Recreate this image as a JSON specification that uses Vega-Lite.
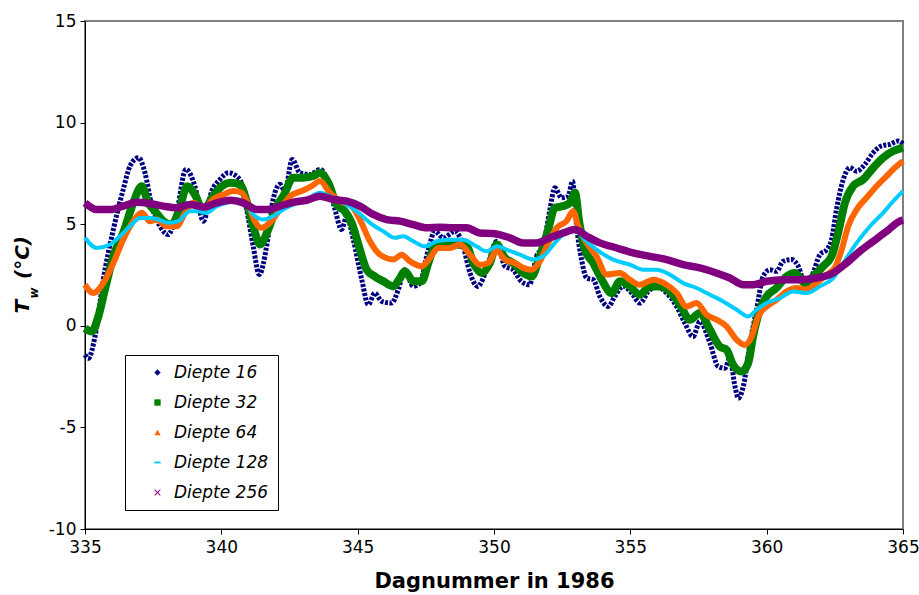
{
  "$schema": "https://vega.github.io/schema/vega-lite/v6.json",
  "width": 818,
  "height": 508,
  "autosize": {"type": "none"},
  "padding": {"left": 85, "top": 21, "right": 16, "bottom": 66},
  "background": "white",
  "config": {
    "view": {"stroke": "#808080", "strokeWidth": 2},
    "font": "DejaVu Sans",
    "axis": {
      "labelFont": "DejaVu Sans", "titleFont": "DejaVu Sans",
      "labelColor": "black", "titleColor": "black",
      "tickColor": "black", "domainColor": "black",
      "grid": false, "labelFontSize": 17, "tickSize": 5, "domainWidth": 1, "tickWidth": 1
    }
  },
  "datasets": {
    "d16": [
      {"d":335,"T":-1.43},{"d":335.12,"T":-1.6},{"d":335.37,"T":-0.5},{"d":335.67,"T":2.27},{"d":336.04,"T":4.74},{"d":336.4,"T":6.7},{"d":336.65,"T":7.86},{"d":336.96,"T":8.27},{"d":337.2,"T":7.53},{"d":337.45,"T":5.89},{"d":337.75,"T":4.9},{"d":338.05,"T":4.49},{"d":338.36,"T":5.56},{"d":338.7,"T":7.7},{"d":339.03,"T":6.87},{"d":339.34,"T":5.15},{"d":339.65,"T":6.63},{"d":339.95,"T":7.2},{"d":340.26,"T":7.53},{"d":340.68,"T":7.2},{"d":340.93,"T":5.72},{"d":341.17,"T":3.91},{"d":341.39,"T":2.52},{"d":341.66,"T":3.91},{"d":341.9,"T":6.22},{"d":342.15,"T":6.96},{"d":342.33,"T":6.63},{"d":342.6,"T":8.19},{"d":342.88,"T":7.53},{"d":343.25,"T":7.45},{"d":343.62,"T":7.7},{"d":343.92,"T":7.04},{"d":344.17,"T":5.72},{"d":344.41,"T":4.74},{"d":344.6,"T":5.39},{"d":344.84,"T":4.24},{"d":345.15,"T":2.27},{"d":345.39,"T":1.04},{"d":345.63,"T":1.61},{"d":345.88,"T":1.2},{"d":346.25,"T":1.12},{"d":346.49,"T":1.78},{"d":346.73,"T":2.76},{"d":347.04,"T":1.94},{"d":347.28,"T":2.1},{"d":347.59,"T":3.75},{"d":347.83,"T":4.65},{"d":348.14,"T":4.33},{"d":348.57,"T":4.65},{"d":348.87,"T":3.91},{"d":349.12,"T":2.6},{"d":349.4,"T":1.94},{"d":349.73,"T":2.76},{"d":350.1,"T":4.16},{"d":350.4,"T":2.93},{"d":350.7,"T":2.76},{"d":351.0,"T":2.19},{"d":351.3,"T":2.02},{"d":351.56,"T":3.42},{"d":351.8,"T":3.91},{"d":352.05,"T":5.72},{"d":352.23,"T":6.79},{"d":352.48,"T":6.3},{"d":352.72,"T":6.38},{"d":352.88,"T":7.12},{"d":353.03,"T":4.9},{"d":353.21,"T":3.26},{"d":353.4,"T":2.35},{"d":353.64,"T":2.27},{"d":353.88,"T":1.45},{"d":354.19,"T":0.95},{"d":354.43,"T":1.45},{"d":354.74,"T":1.94},{"d":355.05,"T":1.61},{"d":355.35,"T":1.12},{"d":355.66,"T":1.69},{"d":355.96,"T":1.94},{"d":356.33,"T":1.61},{"d":356.7,"T":0.95},{"d":357.0,"T":0.13},{"d":357.3,"T":-0.53},{"d":357.55,"T":0.21},{"d":357.92,"T":-0.85},{"d":358.22,"T":-2.0},{"d":358.47,"T":-2.09},{"d":358.65,"T":-1.59},{"d":358.84,"T":-3.0},{"d":358.96,"T":-3.57},{"d":359.14,"T":-3.0},{"d":359.39,"T":-0.85},{"d":359.63,"T":0.79},{"d":359.87,"T":2.43},{"d":360.12,"T":2.76},{"d":360.36,"T":2.68},{"d":360.6,"T":3.17},{"d":360.91,"T":3.26},{"d":361.16,"T":2.93},{"d":361.4,"T":2.1},{"d":361.65,"T":2.43},{"d":361.95,"T":3.5},{"d":362.2,"T":3.75},{"d":362.38,"T":4.24},{"d":362.56,"T":5.72},{"d":362.81,"T":7.2},{"d":363.05,"T":7.78},{"d":363.3,"T":7.61},{"d":363.6,"T":7.94},{"d":363.91,"T":8.52},{"d":364.21,"T":8.85},{"d":364.52,"T":8.93},{"d":364.82,"T":9.09},{"d":365,"T":8.95}
    ],
    "d32": [
      {"d":335,"T":-0.12},{"d":335.25,"T":-0.28},{"d":335.49,"T":0.46},{"d":335.73,"T":1.78},{"d":336.04,"T":3.42},{"d":336.4,"T":4.57},{"d":336.77,"T":6.05},{"d":337.08,"T":6.87},{"d":337.32,"T":6.05},{"d":337.57,"T":5.64},{"d":337.87,"T":5.15},{"d":338.18,"T":4.98},{"d":338.42,"T":5.56},{"d":338.75,"T":6.87},{"d":339.03,"T":6.46},{"d":339.34,"T":5.64},{"d":339.65,"T":6.3},{"d":339.95,"T":6.79},{"d":340.32,"T":7.04},{"d":340.68,"T":6.96},{"d":340.93,"T":6.13},{"d":341.17,"T":4.9},{"d":341.42,"T":4.0},{"d":341.72,"T":4.74},{"d":342.03,"T":5.89},{"d":342.27,"T":6.38},{"d":342.64,"T":7.29},{"d":343.0,"T":7.29},{"d":343.37,"T":7.37},{"d":343.62,"T":7.53},{"d":343.92,"T":7.04},{"d":344.23,"T":5.97},{"d":344.53,"T":5.64},{"d":344.78,"T":5.07},{"d":345.08,"T":3.75},{"d":345.33,"T":2.76},{"d":345.63,"T":2.43},{"d":345.94,"T":2.19},{"d":346.31,"T":1.94},{"d":346.55,"T":2.35},{"d":346.73,"T":2.68},{"d":347.04,"T":2.19},{"d":347.35,"T":2.19},{"d":347.59,"T":3.09},{"d":347.83,"T":3.91},{"d":348.14,"T":4.08},{"d":348.63,"T":4.0},{"d":349.0,"T":3.91},{"d":349.24,"T":3.09},{"d":349.55,"T":2.6},{"d":349.85,"T":3.09},{"d":350.1,"T":4.0},{"d":350.4,"T":3.34},{"d":350.7,"T":3.09},{"d":351.07,"T":2.6},{"d":351.38,"T":2.43},{"d":351.68,"T":3.42},{"d":351.99,"T":4.74},{"d":352.23,"T":5.81},{"d":352.54,"T":5.89},{"d":352.78,"T":6.05},{"d":352.97,"T":6.55},{"d":353.13,"T":5.07},{"d":353.33,"T":3.75},{"d":353.64,"T":3.09},{"d":353.95,"T":2.27},{"d":354.31,"T":1.61},{"d":354.62,"T":2.19},{"d":354.98,"T":1.94},{"d":355.35,"T":1.53},{"d":355.72,"T":1.94},{"d":356.08,"T":1.94},{"d":356.45,"T":1.69},{"d":356.82,"T":1.04},{"d":357.18,"T":0.3},{"d":357.55,"T":0.63},{"d":357.92,"T":-0.2},{"d":358.28,"T":-1.02},{"d":358.53,"T":-1.18},{"d":358.77,"T":-1.92},{"d":359.08,"T":-2.25},{"d":359.32,"T":-1.84},{"d":359.5,"T":-0.53},{"d":359.75,"T":0.79},{"d":360.0,"T":1.45},{"d":360.36,"T":1.86},{"d":360.73,"T":2.43},{"d":361.04,"T":2.6},{"d":361.4,"T":2.1},{"d":361.71,"T":2.43},{"d":362.07,"T":2.93},{"d":362.38,"T":3.42},{"d":362.62,"T":4.57},{"d":362.87,"T":6.05},{"d":363.17,"T":6.87},{"d":363.54,"T":7.2},{"d":363.91,"T":7.78},{"d":364.27,"T":8.27},{"d":364.64,"T":8.6},{"d":365,"T":8.77}
    ],
    "d64": [
      {"d":335,"T":2.02},{"d":335.3,"T":1.61},{"d":335.67,"T":2.1},{"d":336.04,"T":3.09},{"d":336.4,"T":4.24},{"d":336.77,"T":5.15},{"d":337.08,"T":5.56},{"d":337.38,"T":5.15},{"d":337.63,"T":5.23},{"d":337.99,"T":4.9},{"d":338.36,"T":4.9},{"d":338.67,"T":5.56},{"d":338.97,"T":6.05},{"d":339.34,"T":5.72},{"d":339.7,"T":6.22},{"d":340.07,"T":6.46},{"d":340.44,"T":6.63},{"d":340.75,"T":6.55},{"d":340.99,"T":5.97},{"d":341.23,"T":5.15},{"d":341.48,"T":4.82},{"d":341.78,"T":5.07},{"d":342.15,"T":5.72},{"d":342.52,"T":6.38},{"d":342.94,"T":6.63},{"d":343.31,"T":6.87},{"d":343.62,"T":7.12},{"d":343.98,"T":6.55},{"d":344.35,"T":6.13},{"d":344.78,"T":5.89},{"d":345.08,"T":5.23},{"d":345.45,"T":4.16},{"d":345.82,"T":3.5},{"d":346.31,"T":3.26},{"d":346.61,"T":3.5},{"d":346.92,"T":3.17},{"d":347.35,"T":2.93},{"d":347.65,"T":3.34},{"d":347.96,"T":3.83},{"d":348.38,"T":3.83},{"d":348.75,"T":4.0},{"d":349.12,"T":3.5},{"d":349.48,"T":3.0},{"d":349.79,"T":3.09},{"d":350.1,"T":3.7},{"d":350.4,"T":3.26},{"d":350.77,"T":3.09},{"d":351.07,"T":2.85},{"d":351.38,"T":2.76},{"d":351.68,"T":3.17},{"d":351.99,"T":4.08},{"d":352.3,"T":4.82},{"d":352.66,"T":5.15},{"d":352.9,"T":5.64},{"d":353.09,"T":4.9},{"d":353.4,"T":4.08},{"d":353.76,"T":3.42},{"d":354.13,"T":2.52},{"d":354.62,"T":2.6},{"d":354.98,"T":2.27},{"d":355.35,"T":2.02},{"d":355.84,"T":2.27},{"d":356.33,"T":2.02},{"d":356.7,"T":1.61},{"d":357.06,"T":0.95},{"d":357.43,"T":1.12},{"d":357.8,"T":0.54},{"d":358.16,"T":0.3},{"d":358.53,"T":-0.03},{"d":358.9,"T":-0.69},{"d":359.2,"T":-0.94},{"d":359.45,"T":-0.53},{"d":359.69,"T":0.46},{"d":360.0,"T":0.95},{"d":360.36,"T":1.28},{"d":360.73,"T":1.69},{"d":361.1,"T":1.86},{"d":361.46,"T":1.78},{"d":361.83,"T":2.1},{"d":362.2,"T":2.52},{"d":362.5,"T":2.85},{"d":362.75,"T":3.75},{"d":362.99,"T":4.9},{"d":363.3,"T":5.72},{"d":363.66,"T":6.3},{"d":364.03,"T":6.87},{"d":364.4,"T":7.37},{"d":364.7,"T":7.78},{"d":365,"T":8.1}
    ],
    "d128": [
      {"d":335,"T":4.33},{"d":335.43,"T":3.83},{"d":335.92,"T":4.0},{"d":336.28,"T":4.41},{"d":336.65,"T":4.9},{"d":337.02,"T":5.31},{"d":337.38,"T":5.31},{"d":337.69,"T":5.23},{"d":338.05,"T":5.07},{"d":338.42,"T":5.15},{"d":338.85,"T":5.64},{"d":339.15,"T":5.64},{"d":339.46,"T":5.56},{"d":339.83,"T":5.89},{"d":340.2,"T":6.05},{"d":340.56,"T":6.22},{"d":340.87,"T":6.05},{"d":341.17,"T":5.48},{"d":341.54,"T":5.23},{"d":341.9,"T":5.39},{"d":342.27,"T":5.72},{"d":342.64,"T":5.97},{"d":343.13,"T":6.22},{"d":343.62,"T":6.55},{"d":343.98,"T":6.38},{"d":344.47,"T":6.05},{"d":344.96,"T":5.64},{"d":345.45,"T":5.07},{"d":345.94,"T":4.65},{"d":346.37,"T":4.33},{"d":346.67,"T":4.41},{"d":347.04,"T":4.16},{"d":347.47,"T":3.91},{"d":347.9,"T":4.16},{"d":348.38,"T":4.24},{"d":348.87,"T":4.24},{"d":349.36,"T":3.91},{"d":349.73,"T":3.67},{"d":350.1,"T":3.91},{"d":350.46,"T":3.75},{"d":350.95,"T":3.5},{"d":351.44,"T":3.26},{"d":351.87,"T":3.5},{"d":352.23,"T":4.08},{"d":352.6,"T":4.57},{"d":352.97,"T":4.82},{"d":353.27,"T":4.33},{"d":353.76,"T":3.75},{"d":354.37,"T":3.26},{"d":354.98,"T":3.01},{"d":355.47,"T":2.76},{"d":355.96,"T":2.76},{"d":356.45,"T":2.52},{"d":356.94,"T":2.1},{"d":357.43,"T":1.86},{"d":357.92,"T":1.53},{"d":358.41,"T":1.2},{"d":358.9,"T":0.79},{"d":359.32,"T":0.46},{"d":359.63,"T":0.79},{"d":360.0,"T":1.12},{"d":360.49,"T":1.36},{"d":360.97,"T":1.69},{"d":361.46,"T":1.61},{"d":361.95,"T":1.94},{"d":362.44,"T":2.35},{"d":362.81,"T":3.09},{"d":363.3,"T":4.08},{"d":363.79,"T":4.9},{"d":364.27,"T":5.56},{"d":364.64,"T":6.13},{"d":365,"T":6.63}
    ],
    "d256": [
      {"d":335,"T":6.05},{"d":335.43,"T":5.72},{"d":335.92,"T":5.72},{"d":336.4,"T":5.89},{"d":336.9,"T":6.08},{"d":337.38,"T":6.02},{"d":337.87,"T":5.89},{"d":338.36,"T":5.81},{"d":338.85,"T":5.97},{"d":339.34,"T":5.85},{"d":339.83,"T":6.05},{"d":340.32,"T":6.18},{"d":340.8,"T":6.05},{"d":341.3,"T":5.72},{"d":341.66,"T":5.72},{"d":342.15,"T":5.89},{"d":342.64,"T":6.08},{"d":343.13,"T":6.18},{"d":343.62,"T":6.38},{"d":344.1,"T":6.22},{"d":344.6,"T":6.13},{"d":345.08,"T":5.89},{"d":345.57,"T":5.48},{"d":346.06,"T":5.23},{"d":346.55,"T":5.15},{"d":347.04,"T":4.98},{"d":347.53,"T":4.82},{"d":348.02,"T":4.85},{"d":348.5,"T":4.82},{"d":348.99,"T":4.82},{"d":349.48,"T":4.57},{"d":349.97,"T":4.54},{"d":350.58,"T":4.33},{"d":351.07,"T":4.08},{"d":351.56,"T":4.08},{"d":352.05,"T":4.33},{"d":352.54,"T":4.57},{"d":352.97,"T":4.74},{"d":353.4,"T":4.41},{"d":353.88,"T":4.08},{"d":354.5,"T":3.83},{"d":355.1,"T":3.59},{"d":355.72,"T":3.42},{"d":356.33,"T":3.26},{"d":356.94,"T":3.01},{"d":357.55,"T":2.85},{"d":358.16,"T":2.6},{"d":358.65,"T":2.35},{"d":359.14,"T":2.02},{"d":359.5,"T":2.02},{"d":360.0,"T":2.19},{"d":360.6,"T":2.27},{"d":361.22,"T":2.27},{"d":361.83,"T":2.35},{"d":362.44,"T":2.6},{"d":362.93,"T":3.09},{"d":363.42,"T":3.67},{"d":363.91,"T":4.16},{"d":364.4,"T":4.65},{"d":364.88,"T":5.15},{"d":365,"T":5.2}
    ],
    "series": [
      {"s":"Diepte 16"},{"s":"Diepte 32"},{"s":"Diepte 64"},{"s":"Diepte 128"},{"s":"Diepte 256"}
    ]
  },
  "layer": [
    {
      "encoding": {
        "x": {
          "field": "d", "type": "quantitative",
          "scale": {"domain": [335, 365], "nice": false, "zero": false},
          "axis": {
            "values": [335, 340, 345, 350, 355, 360, 365], "format": "d",
            "labelFlush": false, "labelPadding": 5,
            "title": "Dagnummer in 1986", "titleFontSize": 21, "titleFontWeight": "bold", "titlePadding": 15
          }
        },
        "y": {
          "field": "T", "type": "quantitative",
          "scale": {"domain": [-10, 15], "nice": false, "zero": false},
          "axis": {
            "values": [-10, -5, 0, 5, 10, 15], "labelPadding": 4,
            "labelExpr": "datum.value < 0 ? '-' + abs(datum.value) : '' + datum.value",
            "title": "T\u00a0\u00a0\u00a0(°C)", "titleFontSize": 20, "titleFontWeight": "bold", "titleFontStyle": "italic",
            "titleAngle": 270, "titleAlign": "left", "titleBaseline": "alphabetic", "titleX": -57, "titleY": 292
          }
        }
      },
      "layer": [
        {"data": {"name": "d16"}, "mark": {"type": "line", "color": "#000080", "strokeWidth": 5, "strokeDash": [3, 1.5], "interpolate": "monotone"}},
        {"data": {"name": "d32"}, "mark": {"type": "line", "color": "#008000", "strokeWidth": 8, "interpolate": "monotone"}},
        {"data": {"name": "d64"}, "mark": {"type": "line", "color": "#FF6600", "strokeWidth": 6, "interpolate": "monotone"}},
        {"data": {"name": "d128"}, "mark": {"type": "line", "color": "#00CCFF", "strokeWidth": 4, "interpolate": "monotone"}},
        {"data": {"name": "d256"}, "mark": {"type": "line", "color": "#800080", "strokeWidth": 7.5, "interpolate": "monotone"}}
      ]
    },
    {
      "data": {"name": "series"},
      "mark": {"type": "point", "filled": true, "opacity": 1},
      "encoding": {
        "x": {"field": "d", "type": "quantitative", "scale": {"domain": [335, 365], "nice": false, "zero": false}},
        "y": {
          "field": "T", "type": "quantitative",
          "scale": {"domain": [-10, 15], "nice": false, "zero": false},
          "axis": {
            "orient": "right", "labels": false, "ticks": false, "domain": false, "grid": false,
            "title": "w", "titleFontSize": 12, "titleFontWeight": "bold", "titleFontStyle": "italic",
            "titleAngle": 270, "titleAlign": "left", "titleBaseline": "alphabetic", "titleX": -866, "titleY": 277
          }
        },
        "color": {
          "field": "s", "type": "nominal",
          "scale": {"domain": ["Diepte 16", "Diepte 32", "Diepte 64", "Diepte 128", "Diepte 256"], "range": ["#000080", "#008000", "#FF6600", "#00CCFF", "#800080"]},
          "legend": {
            "title": null, "orient": "none", "legendX": 40, "legendY": 334, "direction": "vertical",
            "padding": 9, "symbolOffset": 15, "labelOffset": 8, "rowPadding": 12,
            "labelFont": "DejaVu Sans", "labelFontSize": 17, "labelFontStyle": "italic", "labelColor": "black",
            "strokeColor": "black", "fillColor": "white", "symbolSize": 40, "symbolStrokeWidth": 0, "labelLimit": 300
          }
        },
        "shape": {
          "field": "s", "type": "nominal",
          "scale": {"domain": ["Diepte 16", "Diepte 32", "Diepte 64", "Diepte 128", "Diepte 256"],
            "range": ["diamond", "square", "triangle-up", "M-1,-0.3H1V0.3H-1Z", "M-1,-0.8L-0.8,-1L0,-0.2L0.8,-1L1,-0.8L0.2,0L1,0.8L0.8,1L0,0.2L-0.8,1L-1,0.8L-0.2,0Z"]}
        }
      }
    }
  ],
  "resolve": {"scale": {"y": "independent"}, "axis": {"y": "independent"}}
}
